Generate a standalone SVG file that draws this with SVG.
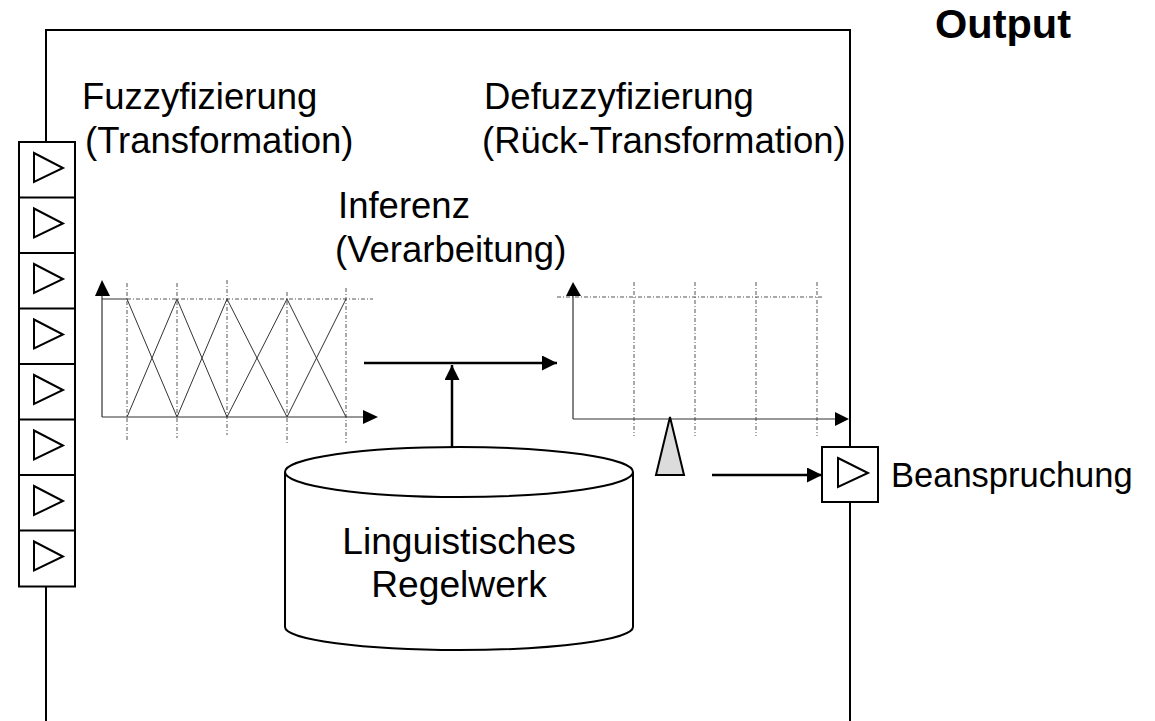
<svg xmlns="http://www.w3.org/2000/svg" width="1155" height="721" viewBox="0 0 1155 721">
  <style>
    text { font-family: "Liberation Sans", Arial, sans-serif; fill: #000; }
    .lbl { font-size: 36.5px; }
    .out { font-size: 34.5px; }
    .db { font-size: 37.2px; text-anchor: middle; }
    .title { font-size: 41.5px; font-weight: bold; }
    .frame { fill: none; stroke: #000; stroke-width: 2; }
    .box { fill: #fff; stroke: #000; stroke-width: 2; }
    .tri { fill: none; stroke: #000; stroke-width: 2; stroke-linejoin: miter; }
    .axis { fill: none; stroke: #333; stroke-width: 1.2; }
    .mf { fill: none; stroke: #333; stroke-width: 1; }
    .grid { fill: none; stroke: #555; stroke-width: 1; stroke-dasharray: 4 2 1 2; }
    .conn { fill: none; stroke: #000; stroke-width: 2.5; }
  </style>
  <defs>
    <marker id="head" markerUnits="userSpaceOnUse" markerWidth="16" markerHeight="16" refX="15" refY="7.5" orient="auto">
      <path d="M0,0 L15,7.5 L0,15 Z" fill="#000"/>
    </marker>
  </defs>

  <rect width="1155" height="721" fill="#fff"/>

  <!-- system boundary -->
  <g id="frame">
    <path class="frame" d="M46,721 V30 H850 V721"/>
  </g>

  <!-- input channels -->
  <g id="inputs">
    <rect class="box" x="19" y="142" width="56" height="444.5"/>
    <path class="frame" d="M19,197.5 H75 M19,253 H75 M19,308.5 H75 M19,364 H75 M19,419.5 H75 M19,475 H75 M19,530.5 H75"/>
    <path class="tri" d="M34,153 L63,168 L34,182 Z"/>
    <path class="tri" d="M34,208.5 L63,223.5 L34,237.5 Z"/>
    <path class="tri" d="M34,264 L63,279 L34,293 Z"/>
    <path class="tri" d="M34,319.5 L63,334.5 L34,348.5 Z"/>
    <path class="tri" d="M34,375 L63,390 L34,404 Z"/>
    <path class="tri" d="M34,430.5 L63,445.5 L34,459.5 Z"/>
    <path class="tri" d="M34,486 L63,501 L34,515 Z"/>
    <path class="tri" d="M34,541.5 L63,556.5 L34,570.5 Z"/>
  </g>

  <!-- fuzzification: membership functions -->
  <g id="fuzzification">
    <path class="grid" d="M127,299 H373"/>
    <path class="grid" d="M127,283 V440 M177,283 V438 M227,280 V435 M287,292 V445 M346,288 V443"/>
    <path class="axis" d="M102,417 V296 M102,417 H363"/>
    <path d="M102,280 L95,296 L110,296 Z" fill="#000"/>
    <path d="M378,417 L363,410 L363,424 Z" fill="#000"/>
    <path class="mf" d="M102,299 H127 L177,417 M127,417 L177,299 L227,417 M177,417 L227,299 L287,417 M227,417 L287,299 L346,417 M287,417 L346,299"/>
  </g>

  <!-- defuzzification -->
  <g id="defuzzification">
    <path class="grid" d="M557,297 H823"/>
    <path class="grid" d="M634,282 V496 M695,282 V496 M756,282 V496 M817,282 V496"/>
    <rect x="630" y="436" width="200" height="62" fill="#fff"/>
    <path class="axis" d="M573,419 V296 M573,419 H835"/>
    <path d="M573,282 L566,296 L581,296 Z" fill="#000"/>
    <path d="M849,419 L835,412 L835,426 Z" fill="#000"/>
    <path d="M670,417 L656,475 L684,475 Z" fill="#dcdcdc" stroke="#000" stroke-width="2"/>
  </g>

  <!-- rule base -->
  <g id="rulebase">
    <path class="box" d="M285,472 A174,25 0 0 1 633,472 V627 A174,23 0 0 1 285,627 Z"/>
    <path class="frame" d="M285,472 A174,25 0 0 0 633,472"/>
    <text class="db" x="459" y="554">Linguistisches</text>
    <text class="db" x="459" y="597">Regelwerk</text>
  </g>

  <!-- output channel -->
  <g id="output">
    <rect class="box" x="822" y="447" width="56" height="55"/>
    <path class="tri" d="M838,458 L868,473 L838,487 Z"/>
    <text class="out" x="891" y="487">Beanspruchung</text>
  </g>

  <!-- connectors -->
  <g id="connectors">
    <path class="conn" d="M364,363 H557" marker-end="url(#head)"/>
    <path class="conn" d="M452,447 V365" marker-end="url(#head)"/>
    <path class="conn" d="M712,475 H822" marker-end="url(#head)"/>
  </g>

  <!-- stage labels -->
  <g id="labels">
    <text class="lbl" x="82" y="109">Fuzzyfizierung</text>
    <text class="lbl" x="85" y="153">(Transformation)</text>
    <text class="lbl" x="484" y="109">Defuzzyfizierung</text>
    <text class="lbl" x="482" y="153">(Rück-Transformation)</text>
    <text class="lbl" x="338" y="218">Inferenz</text>
    <text class="lbl" x="335" y="262">(Verarbeitung)</text>
    <text class="title" x="935" y="38">Output</text>
  </g>
</svg>
